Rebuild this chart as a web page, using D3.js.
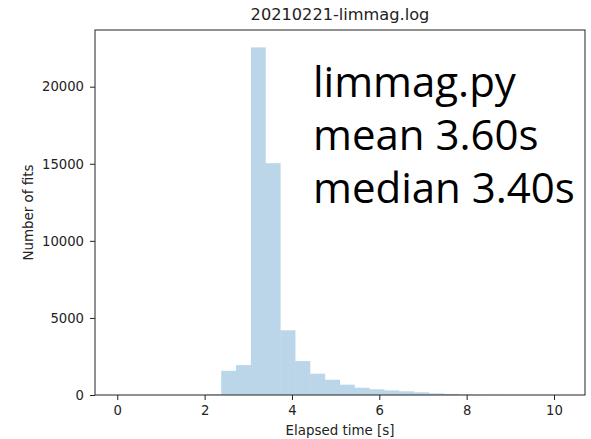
<!DOCTYPE html>
<html>
<head>
<meta charset="utf-8">
<script src="https://cdn.jsdelivr.net/npm/d3@7"></script>
<style>
  html, body { margin: 0; padding: 0; background: #fff; }
  svg { display: block; }
  .axis text { font-family: "DejaVu Sans", sans-serif; font-size: 13.2px; fill: #222; }
  .axis path, .axis line { stroke: #222; }
</style>
</head>
<body>
<svg id="chart" width="591" height="439"></svg>
<script>
// Histogram of elapsed fit times: 30 bins of 0.34 s from 0 to 10.2 s
const binWidth = 0.34;
const binStarts = d3.range(30).map(i => +(i * binWidth).toFixed(2));
const counts = [
  1, 0, 0, 0, 0, 0, 40, 1570, 1940, 22550,
  15040, 4200, 2200, 1380, 990, 670, 470, 370, 300, 240,
  175, 105, 68, 30, 10, 5, 4, 3, 2, 1
];
const xTicks = [0, 2, 4, 6, 8, 10];
const yTicks = [0, 5000, 10000, 15000, 20000];
const titleText = "20210221-limmag.log";
const xLabel = "Elapsed time [s]";
const yLabel = "Number of fits";
const noteLines = ["limmag.py", "mean 3.60s", "median 3.40s"];

const svg = d3.select("#chart");
const plot = { left: 95, right: 585, top: 30, bottom: 395 };

const dataMin = binStarts[0];
const dataMax = binStarts[binStarts.length - 1] + binWidth;
const pad = (dataMax - dataMin) * 0.05;
const x = d3.scaleLinear()
  .domain([dataMin - pad, dataMax + pad])
  .range([plot.left, plot.right]);
const y = d3.scaleLinear()
  .domain([0, d3.max(counts) * 1.05])
  .range([plot.bottom, plot.top]);

// bars
svg.append("g")
  .selectAll("rect")
  .data(binStarts)
  .join("rect")
  .attr("x", d => x(d))
  .attr("width", d => x(d + binWidth) - x(d))
  .attr("y", (d, i) => y(counts[i]))
  .attr("height", (d, i) => y(0) - y(counts[i]))
  .attr("fill", "#1f77b4")
  .attr("fill-opacity", 0.3);

// axes
const xAxis = svg.append("g")
  .attr("class", "axis")
  .attr("transform", `translate(0,${plot.bottom})`)
  .call(d3.axisBottom(x).tickValues(xTicks).tickFormat(d3.format("d")).tickSize(5).tickPadding(5.5).tickSizeOuter(0));
xAxis.select(".domain").remove();

const yAxis = svg.append("g")
  .attr("class", "axis")
  .attr("transform", `translate(${plot.left},0)`)
  .call(d3.axisLeft(y).tickValues(yTicks).tickFormat(d3.format("d")).tickSize(5).tickPadding(6).tickSizeOuter(0));
yAxis.select(".domain").remove();

// frame
svg.append("rect")
  .attr("x", plot.left)
  .attr("y", plot.top)
  .attr("width", plot.right - plot.left)
  .attr("height", plot.bottom - plot.top)
  .attr("fill", "none")
  .attr("stroke", "#222")
  .attr("stroke-width", 1);

// title and axis labels
svg.append("text")
  .attr("x", (plot.left + plot.right) / 2)
  .attr("y", 20)
  .attr("text-anchor", "middle")
  .style("font-family", "DejaVu Sans, sans-serif")
  .style("font-size", "16.2px")
  .style("fill", "#222")
  .text(titleText);

svg.append("text")
  .attr("x", (plot.left + plot.right) / 2)
  .attr("y", 435)
  .attr("text-anchor", "middle")
  .style("font-family", "DejaVu Sans, sans-serif")
  .style("font-size", "13.4px")
  .style("fill", "#222")
  .text(xLabel);

svg.append("text")
  .attr("transform", `translate(33,${(plot.top + plot.bottom) / 2}) rotate(-90)`)
  .attr("text-anchor", "middle")
  .style("font-family", "DejaVu Sans, sans-serif")
  .style("font-size", "13.4px")
  .style("fill", "#222")
  .text(yLabel);

// annotation
svg.append("g")
  .selectAll("text")
  .data(noteLines)
  .join("text")
  .attr("x", 313)
  .attr("y", (d, i) => 97 + i * 53)
  .style("font-family", "Open Sans, sans-serif")
  .style("font-size", "42px")
  .style("fill", "#000")
  .text(d => d);
</script>
</body>
</html>
